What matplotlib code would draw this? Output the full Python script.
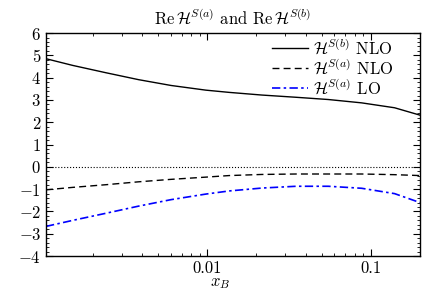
import matplotlib
matplotlib.use("Agg")
import matplotlib.pyplot as plt
from matplotlib.ticker import MultipleLocator, LogLocator, NullFormatter

plt.rcParams['font.family'] = 'cmr10'
plt.rcParams['mathtext.fontset'] = 'cm'
plt.rcParams['axes.formatter.use_mathtext'] = True

# values
x_b = [0.00103, 0.0015, 0.0024, 0.0038, 0.006, 0.0098, 0.0136, 0.0216,
       0.035, 0.055, 0.088, 0.14, 0.2]
h_b_nlo = [4.85, 4.55, 4.22, 3.91, 3.65, 3.44, 3.34, 3.22, 3.12, 3.02, 2.87, 2.65, 2.32]
h_a_nlo = [-1.03, -0.92, -0.80, -0.67, -0.56, -0.46, -0.39, -0.34, -0.32, -0.32, -0.32, -0.35, -0.39]
h_a_lo = [-2.67, -2.40, -2.08, -1.76, -1.47, -1.22, -1.08, -0.95, -0.87, -0.87, -0.96, -1.20, -1.60]

labels = [r'$\mathcal{H}^{S(b)}$ NLO', r'$\mathcal{H}^{S(a)}$ NLO', r'$\mathcal{H}^{S(a)}$ LO']

fig = plt.figure(figsize=(4.42, 2.9), dpi=100)
ax = fig.add_axes([0.104, 0.117, 0.846, 0.769])

ax.axhline(0, color='black', ls=':', lw=0.8)
ax.plot(x_b, h_b_nlo, color='black', ls='-', lw=1.0, label=labels[0])
ax.plot(x_b, h_a_nlo, color='black', ls=(0, (5, 3)), lw=1.0, label=labels[1])
ax.plot(x_b, h_a_lo, color='blue', ls=(0, (5, 2, 1.5, 2)), lw=1.2, label=labels[2])

ax.set_xscale('log')
ax.set_xlim(0.00103, 0.2)
ax.set_ylim(-4, 6)
ax.set_xticks([0.01, 0.1])
ax.set_xticklabels(['0.01', '0.1'])
ax.xaxis.set_minor_locator(LogLocator(base=10, subs=range(2, 10)))
ax.xaxis.set_minor_formatter(NullFormatter())
ax.yaxis.set_major_locator(MultipleLocator(1))
ax.yaxis.set_minor_locator(MultipleLocator(0.2))

ax.tick_params(which='both', direction='in', top=True, right=True, labelsize=12)
ax.tick_params(which='major', length=5, width=0.8)
ax.tick_params(which='minor', length=2.5, width=0.6)
for s in ax.spines.values():
    s.set_linewidth(1.0)

ax.set_xlabel(r'$x_B$', fontsize=12)
ax.xaxis.set_label_coords(0.465, -0.09)
ax.set_title(r'$\mathrm{Re}\,\mathcal{H}^{S(a)}$ and $\mathrm{Re}\,\mathcal{H}^{S(b)}$', fontsize=12, pad=7)

ax.legend(loc='upper right', bbox_to_anchor=(0.96, 1.032), frameon=False, fontsize=12,
          handlelength=2.15, labelspacing=0.0, borderaxespad=0.3, handletextpad=0.3)

fig.savefig('out.png', dpi=100)
